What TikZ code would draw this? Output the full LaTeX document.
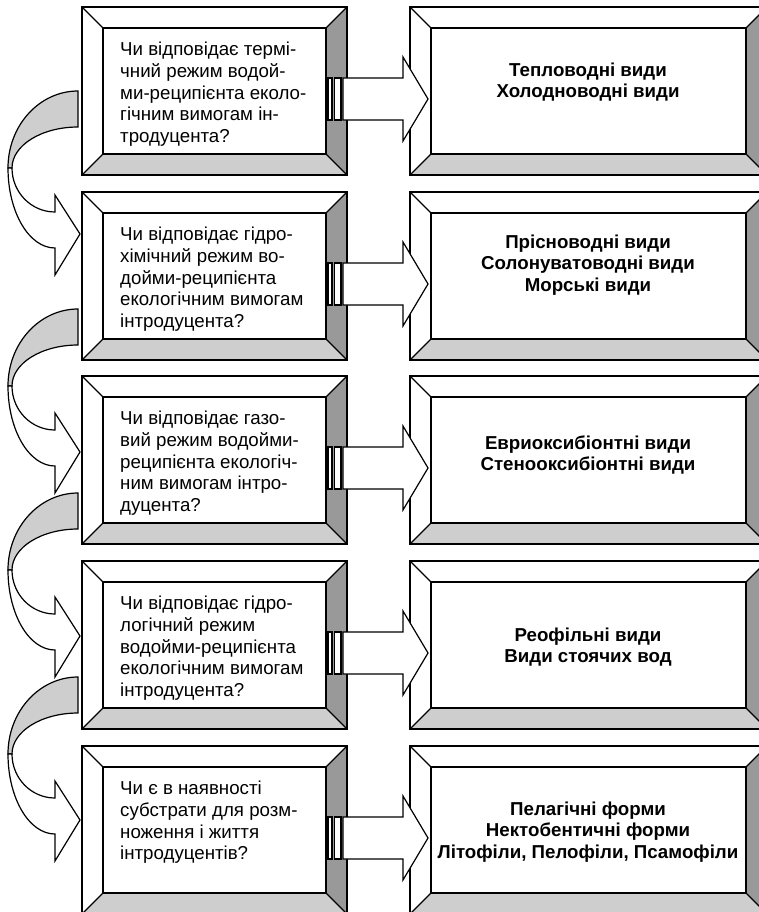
\documentclass[tikz,border=0pt]{standalone}
\usepackage{fontspec}
\setmainfont{Liberation Sans}
\usepackage{tikz}
\usetikzlibrary{calc}
\definecolor{bevdark}{RGB}{153,153,153}
\definecolor{bevlight}{RGB}{206,206,206}
\tikzset{
  bevouter/.style={draw=black,line width=1.7pt},
  bevinner/.style={draw=black,line width=1.2pt},
  blockarr/.style={draw=black,fill=white,line width=1.2pt,line join=miter},
  backarr/.style={draw=black,fill=bevlight,line width=1.2pt},
  qtext/.style={font=\fontsize{18.7}{21.7}\selectfont,align=left,anchor=north west,inner sep=0pt},
  atext/.style={font=\fontsize{18.7}{21.7}\selectfont\bfseries,align=center,inner sep=0pt},
}
% framed box with bevelled edges: left, top, right, bottom
\newcommand{\bevelbox}[4]{%
  \coordinate (bo1) at (#1,#2);
  \coordinate (bo2) at (#3,#4);
  \coordinate (bi1) at ([shift={(21,21)}]bo1);
  \coordinate (bi2) at ([shift={(-21,-21)}]bo2);
  \fill[white] (bo1) rectangle (bo2);
  \fill[bevdark] (bo1 -| bo2) -- (bo2) -- (bi2) -- (bi1 -| bi2) -- cycle;
  \fill[bevlight] (bo1 |- bo2) -- (bo2) -- (bi2) -- (bi1 |- bi2) -- cycle;
  \draw[bevinner] (bi1) rectangle (bi2);
  \draw[bevinner] (bo1) -- (bi1) (bo2) -- (bi2)
    (bo1 -| bo2) -- (bi1 -| bi2) (bo1 |- bo2) -- (bi1 |- bi2);
  \draw[bevouter] (bo1) rectangle (bo2);
}

\begin{document}
\begin{tikzpicture}[x=1pt,y=-1pt]
  \useasboundingbox (0,0) rectangle (758,912);

  % curved arrows between the questions
  \foreach \t in {91,309,493,677}{
    \begin{scope}[shift={(0,\t)}]
      \draw[backarr] (78,0) arc[start angle=-90,end angle=-180,x radius=70,y radius=77]
        -- (12,77) arc[start angle=180,end angle=270,x radius=66,y radius=41] -- cycle;
      \draw[blockarr] (8,77) arc[start angle=180,end angle=90,x radius=47,y radius=80]
        -- (55,184) -- (80,143) -- (55,104) -- (55,121)
        arc[start angle=90,end angle=180,x radius=43,y radius=44] -- cycle;
    \end{scope}
  }

  % rows of boxes
  \foreach \t in {7,192,376,561,746}{
    \begin{scope}[shift={(0,\t)}]
      \bevelbox{82}{0}{347}{168}
      \bevelbox{410}{0}{767}{168}
      \draw[blockarr] (328,71) rectangle (332,113);
      \draw[blockarr] (334.5,71) rectangle (341,113);
      \draw[blockarr] (343,71) -- (403,71) -- (403,50) -- (428,92)
        -- (403,134) -- (403,113) -- (343,113) -- cycle;
    \end{scope}
  }

  % questions
  \node[qtext] (q1) at (120,42) {Чи відповідає термі-\\чний режим водой-\\ми-реципієнта еколо-\\гічним вимогам ін-\\тродуцента?};
  \node[qtext] (q2) at (120,227) {Чи відповідає гідро-\\хімічний режим во-\\дойми-реципієнта\\екологічним вимогам\\інтродуцента?};
  \node[qtext] (q3) at (120,411) {Чи відповідає газо-\\вий режим водойми-\\реципієнта екологіч-\\ним вимогам інтро-\\дуцента?};
  \node[qtext] (q4) at (120,596) {Чи відповідає гідро-\\логічний режим\\водойми-реципієнта\\екологічним вимогам\\інтродуцента?};
  \node[qtext] (q5) at (120,781) {Чи є в наявності\\субстрати для розм-\\ноження і життя\\інтродуцентів?};

  % answers
  \node[atext] (a1) at (588,82) {Тепловодні види\\Холодноводні види};
  \node[atext] (a2) at (588,265) {Прісноводні види\\Солонуватоводні види\\Морські види};
  \node[atext] (a3) at (588,455) {Евриоксибіонтні види\\Стенооксибіонтні види};
  \node[atext] (a4) at (588,647) {Реофільні види\\Види стоячих вод};
  \node[atext] (a5) at (588,832) {Пелагічні форми\\Нектобентичні форми\\Літофіли, Пелофіли, Псамофіли};
\end{tikzpicture}
\end{document}
